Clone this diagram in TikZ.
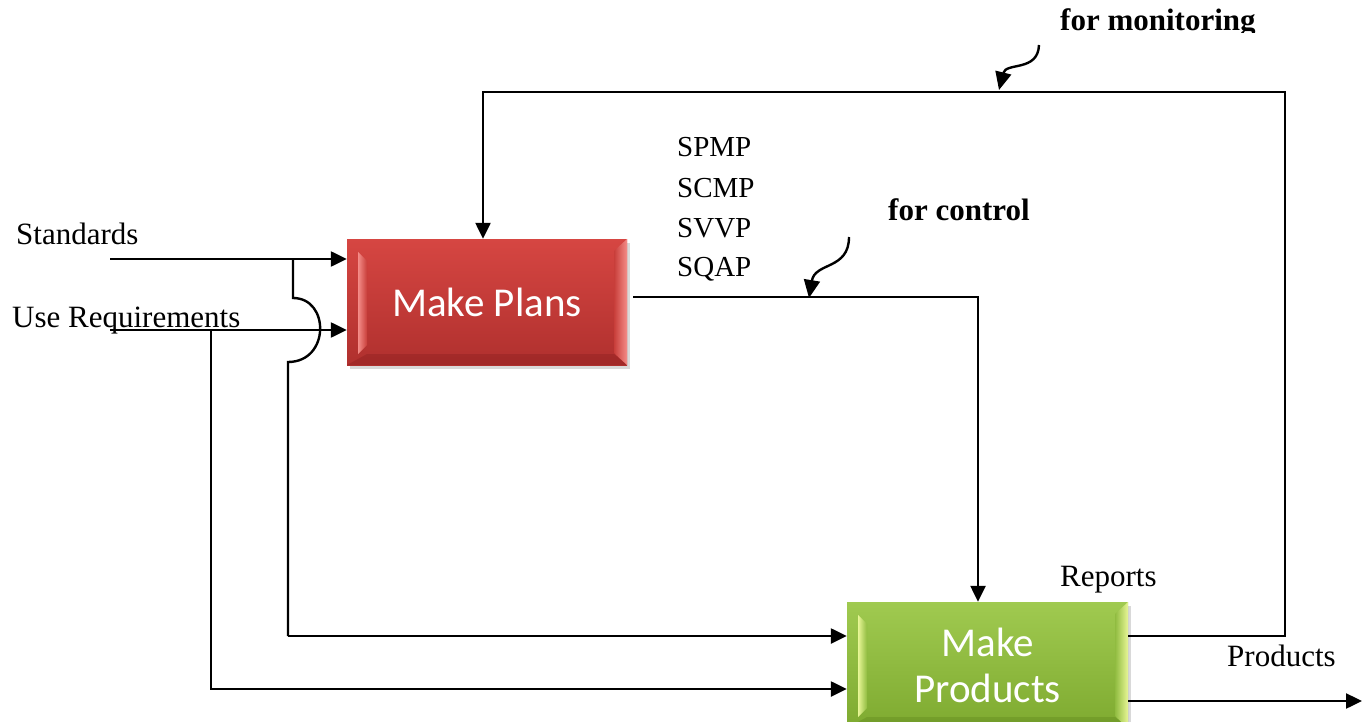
\documentclass[tikz,border=0pt]{standalone}
\usepackage{fontspec}
\setmainfont{Liberation Serif}
\newfontfamily\boxfont{Carlito}
\usetikzlibrary{arrows.meta,shadows,calc}

\definecolor{planTop}{RGB}{214,70,66}
\definecolor{planBot}{RGB}{176,48,46}
\definecolor{planFace}{RGB}{200,62,58}
\definecolor{planLight}{RGB}{244,140,136}
\definecolor{planDark}{RGB}{150,36,36}
\definecolor{prodTop}{RGB}{160,202,80}
\definecolor{prodBot}{RGB}{126,170,48}
\definecolor{prodFace}{RGB}{144,188,64}
\definecolor{prodLight}{RGB}{232,246,150}
\definecolor{prodDark}{RGB}{106,146,36}

% bevelled edges of a process box: #1 face, #2 highlight, #3 lower shade
\newcommand\bevels[3]{%
  \path (path picture bounding box.north west) coordinate (bnw)
        (path picture bounding box.north east) coordinate (bne)
        (path picture bounding box.south west) coordinate (bsw)
        (path picture bounding box.south east) coordinate (bse);
  \fill[#3,opacity=0.55] (bsw) -- (bse) -- ($(bse)+(-13pt,11pt)$) -- ($(bsw)+(20pt,11pt)$) -- cycle;
  \shade[left color=#2,right color=#1]
    ($(bnw)+(11pt,-13pt)$) -- ($(bnw)+(20pt,-22pt)$) -- ($(bsw)+(20pt,20pt)$) -- ($(bsw)+(11pt,11pt)$) -- cycle;
  \shade[left color=#1,right color=#2]
    ($(bne)+(-13pt,-12pt)$) -- ($(bne)+(0pt,0pt)$) -- ($(bse)+(0pt,0pt)$) -- ($(bse)+(-13pt,12pt)$) -- cycle;
}

\begin{document}
\begin{tikzpicture}[x=1pt,y=-1pt,
  wire/.style={line width=2.4pt},
  flow/.style={wire,-{Triangle[length=16pt,width=15pt]}},
  curly/.style={line width=2.4pt,-{Triangle[length=18pt,width=16pt]}},
  lbl/.style={font=\fontsize{31}{36}\selectfont,inner sep=0pt,anchor=base west},
  caps/.style={lbl,font=\fontsize{29}{34}\selectfont},
  bold/.style={lbl,font=\fontsize{31}{36}\selectfont\bfseries},
  procbox/.style={inner sep=0pt,text=white,align=center,
    font=\boxfont\fontsize{41}{46}\selectfont,
    drop shadow={opacity=0.3,shadow xshift=3pt,shadow yshift=-4pt}},
  planbox/.style={procbox,top color=planTop,bottom color=planBot,
    path picture={\bevels{planFace}{planLight}{planDark}}},
  prodbox/.style={procbox,top color=prodTop,bottom color=prodBot,
    path picture={\bevels{prodFace}{prodLight}{prodDark}}},
]
\useasboundingbox (0,0) rectangle (1367,722);

% process boxes
\node[planbox,minimum width=280pt,minimum height=126pt] (plans) at (487,302) {Make Plans};
\node[prodbox,minimum width=281pt,minimum height=126pt] (products) at (987.5,665) {Make\\Products};

% labels
\node[lbl] (std) at (16,244) {Standards};
\node[lbl] (ureq) at (12,327) {Use Requirements};
\node[caps] (spmp) at (677,157) {SPMP};
\node[caps] (scmp) at (677,197) {SCMP};
\node[caps] (svvp) at (677,237) {SVVP};
\node[caps] (sqap) at (677,276) {SQAP};
\node[bold] (ctrl) at (888,220) {for control};
\node[lbl] (reports) at (1060,586) {Reports};
\node[lbl] (prodlbl) at (1227,666) {Products};
\begin{scope}
  \clip (1000,0) rectangle (1300,33);
  \node[bold] (mon) at (1060,31) {for monitoring};
\end{scope}

% connector end points
\coordinate (stdin) at (110,259);
\coordinate (urin) at (110,330);
\coordinate (stdtap) at (293,259);
\coordinate (urtap) at (211,330);
\coordinate (jumptop) at (293,298);
\coordinate (jumpbot) at (288,362);
\coordinate (planout) at (633,297);
\coordinate (ctrlcorner) at (978,297);
\coordinate (fbout) at (1128,636);
\coordinate (fbright) at (1285,636);
\coordinate (fbtopright) at (1285,92);
\coordinate (fbtopleft) at (483,92);
\coordinate (prodout) at (1128,701);
\coordinate (prodend) at (1362,701);

% inputs to Make Plans
\draw[flow] (stdin) -- (stdin -| plans.west);
\draw[flow] (urin) -- (urin -| plans.west);

% Standards branch, jumping over the Use Requirements line
\draw[wire] (stdtap) -- (jumptop)
  .. controls (330,298) and (330,362) .. (jumpbot)
  -- (jumpbot |- 0,636);
\draw[flow] (jumpbot |- 0,636) -- (products.west |- 0,636);

% Use Requirements branch
\draw[flow] (urtap) -- (urtap |- 0,689) -- (products.west |- 0,689);

% plans for control
\draw[flow] (planout) -- (ctrlcorner) -- (ctrlcorner |- products.north);

% reports fed back for monitoring
\draw[flow] (fbout) -- (fbright) -- (fbtopright) -- (fbtopleft) -- (fbtopleft |- plans.north);

% products out
\draw[flow] (prodout) -- (prodend);

% pointer arrows
\coordinate (ctrlfrom) at (849,237);
\coordinate (ctrlto) at (809,298);
\draw[curly] (ctrlfrom) .. controls (849,270) and (815,262) .. (ctrlto);
\coordinate (monfrom) at (1039,45);
\coordinate (monto) at (999,90);
\draw[curly] (monfrom) .. controls (1038,72) and (1006,62) .. (monto);
\end{tikzpicture}
\end{document}
